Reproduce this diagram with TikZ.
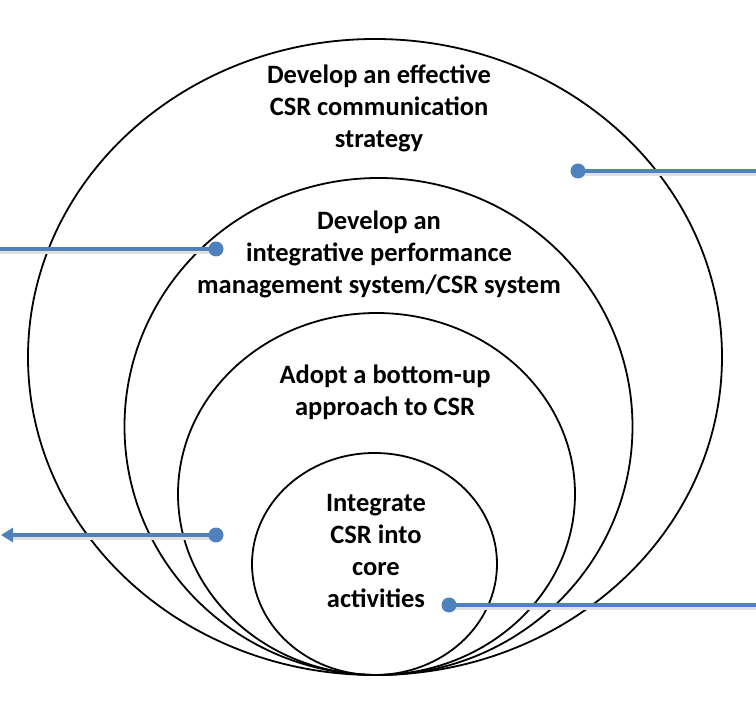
\documentclass[tikz,border=0pt]{standalone}
\usepackage{fontspec}
\setmainfont{Carlito}
\usetikzlibrary{shapes.geometric,arrows.meta}
\definecolor{cblue}{HTML}{4F81BD}
\tikzset{
  ring/.style={draw=black, line width=1.8pt, ellipse, inner sep=0pt},
  lbl/.style={align=center, font=\bfseries\fontsize{26.5}{32}\selectfont},
  dotn/.style={circle, fill=cblue, inner sep=0pt, minimum size=15pt},
  conn/.style={draw=cblue, line width=3.8pt},
  shad/.style={draw=black!12, line width=3.2pt},
}
\begin{document}
\begin{tikzpicture}[x=1pt,y=-1pt]
\useasboundingbox[fill=white] (0,0) rectangle (756,714);
\node[ring, minimum width=694pt, minimum height=636pt] (e1) at (375,357) {};
\node[ring, minimum width=508pt, minimum height=497pt] (e2) at (378.5,426.5) {};
\node[ring, minimum width=397pt, minimum height=362pt] (e3) at (376.5,494) {};
\node[ring, minimum width=245pt, minimum height=222pt] (e4) at (374.5,564) {};

\node[lbl] (t1) at (379,108) {Develop an effective\\CSR communication\\strategy};
\node[lbl] (t2) at (379,254.5) {Develop an\\integrative performance\\management system/CSR system};
\node[lbl] (t3) at (385,392.5) {Adopt a bottom-up\\approach to CSR};
\node[lbl] (t4) at (376,551.5) {Integrate\\CSR into\\core\\activities};

\coordinate (r1) at (757,171);
\coordinate (l2) at (-1,249);
\coordinate (l3) at (1,535);
\coordinate (r4) at (757,605);

% shadows
\draw[shad] (578,174) -- (757,174);
\draw[shad] (-1,252) -- (216,252);
\draw[shad] (8,538) -- (216,538);
\draw[shad] (449,608) -- (757,608);

\node[dotn] (d1) at (578,171) {};
\node[dotn] (d2) at (216,249) {};
\node[dotn] (d3) at (216,535) {};
\node[dotn] (d4) at (449,605) {};

\draw[conn] (d1.center) -- (r1);
\draw[conn] (d2.center) -- (l2);
\draw[conn, -{Triangle[length=12pt,width=14pt]}] (d3.center) -- (l3);
\draw[conn] (d4.center) -- (r4);
\end{tikzpicture}
\end{document}
